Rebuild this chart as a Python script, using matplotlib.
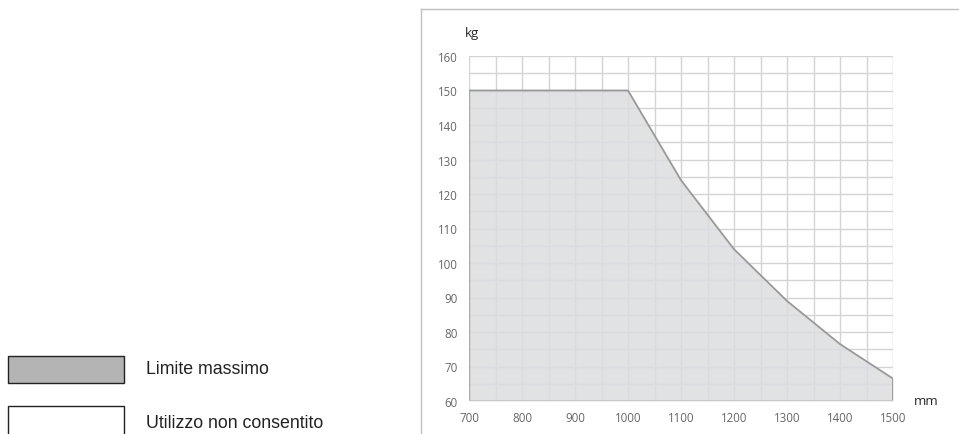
import matplotlib
matplotlib.use("Agg")
import matplotlib.pyplot as plt
from matplotlib.patches import Rectangle
from matplotlib.lines import Line2D

lengths_mm = [700, 1000, 1100, 1200, 1300, 1400, 1500]
max_load_kg = [150, 150, 124, 104, 89, 76.5, 66.5]
x_ticks = [700, 800, 900, 1000, 1100, 1200, 1300, 1400, 1500]
y_ticks = [60, 70, 80, 90, 100, 110, 120, 130, 140, 150, 160]
legend_labels = ["Limite massimo", "Utilizzo non consentito"]

W, H = 959, 435
fig = plt.figure(figsize=(W / 100, H / 100), dpi=100)

def fx(px):
    return px / W

def fy(py):
    return 1 - py / H

# outer chart frame
fig.add_artist(Line2D([fx(421), fx(421)], [fy(10), 0], color="#c0c0c0", lw=1.0))
fig.add_artist(Line2D([fx(421), 1], [fy(10), fy(10)], color="#c0c0c0", lw=1.0))

ax = fig.add_axes([fx(469), fy(402), fx(893) - fx(469), fy(57) - fy(402)])
ax.set_xlim(700, 1500)
ax.set_ylim(60, 160)

# grid
for x in range(700, 1501, 50):
    ax.axvline(x, color="#d4d4d4", lw=1.0, zorder=1)
for y in range(60, 161, 5):
    ax.axhline(y, color="#d4d4d4", lw=1.0, zorder=1)

ax.fill_between(lengths_mm, max_load_kg, 60, color="#dcdde0", alpha=0.85, lw=0, zorder=2)
ax.plot(lengths_mm, max_load_kg, color="#999999", lw=1.3, zorder=3)
ax.plot([1500, 1500], [60, max_load_kg[-1]], color="#999999", lw=1.3, zorder=3)
ax.plot([700, 700], [60, max_load_kg[0]], color="#aaaaaa", lw=1.0, zorder=3)

for s in ax.spines.values():
    s.set_visible(False)
ax.axhline(60, color="#c4c4c4", lw=1.2, zorder=3)

ax.set_xticks(x_ticks)
ax.set_yticks(y_ticks)
ax.tick_params(length=0, labelsize=8.3, colors="#666666", pad=5)
for lab in ax.get_xticklabels() + ax.get_yticklabels():
    lab.set_fontfamily("Open Sans")
ax.tick_params(axis="x", pad=7)
ax.tick_params(axis="y", pad=8)

fig.text(fx(465), fy(33), "kg", fontsize=9.5, color="#262626", family="Open Sans", va="center", ha="left")
fig.text(fx(914), fy(402), "mm", fontsize=9.5, color="#262626", family="Open Sans", va="center", ha="left")

# legend
fig.add_artist(Rectangle((fx(8), fy(384)), fx(124) - fx(8), fy(357) - fy(384),
                         facecolor="#b4b4b4", edgecolor="#222222", lw=1.0))
fig.add_artist(Rectangle((fx(8), fy(440)), fx(124) - fx(8), fy(407) - fy(440),
                         facecolor="white", edgecolor="#222222", lw=1.0, clip_on=False))
fig.text(fx(146), fy(370), legend_labels[0], fontsize=12.8, family="Liberation Sans", color="#222222", va="center")
fig.text(fx(146), fy(424), legend_labels[1], fontsize=12.8, family="Liberation Sans", color="#222222", va="center")

fig.savefig("out.png", dpi=100)
